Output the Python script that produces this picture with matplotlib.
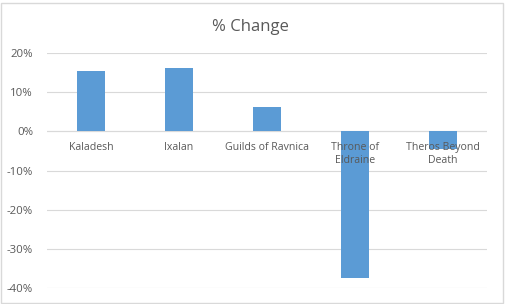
import matplotlib.pyplot as plt
import numpy as np
from matplotlib.ticker import PercentFormatter
from matplotlib.patches import Rectangle

sets = ["Kaladesh", "Ixalan", "Guilds of Ravnica", "Throne of\nEldraine", "Theros Beyond\nDeath"]
change = [15.4, 16.2, 6.2, -37.4, -4.6]
yticks = [-40, -30, -20, -10, 0, 10, 20]

plt.rcParams['font.family'] = ['Open Sans', 'DejaVu Sans']
plt.rcParams['axes.unicode_minus'] = False

fig = plt.figure(figsize=(5.06, 3.04), dpi=100)
ax = fig.add_axes([47/506, 16/304, 440/506, 235/304])

x = np.arange(len(sets))
ax.bar(x, change, width=0.32, color="#5b9bd5", zorder=3)

ax.set_xlim(-0.5, len(sets) - 0.5)
ax.set_ylim(-40, 20)
ax.set_yticks(yticks)
ax.yaxis.set_major_formatter(PercentFormatter(decimals=0))
ax.tick_params(axis="y", length=0, pad=10, labelsize=8.2, labelcolor="#595959")
ax.set_xticks([])
ax.grid(axis="y", color="#d9d9d9", linewidth=0.8, zorder=0)
ax.axhline(0, color="#d9d9d9", linewidth=0.8, zorder=1)
for s in ax.spines.values():
    s.set_visible(False)

for xi, name in zip(x, sets):
    ax.text(xi, -2.6, name, ha="center", va="top", fontsize=7.6,
            color="#595959", linespacing=1.25, zorder=4)

fig.text(250/506, 1 - 27/304, "% Change", ha="center", va="center",
         fontsize=12, color="#595959")

fig.patches.append(Rectangle((1/506, 1/304), 502/506, 300/304, transform=fig.transFigure,
                             fill=False, edgecolor="#d9d9d9", linewidth=1))

fig.savefig("out.png", dpi=100)
